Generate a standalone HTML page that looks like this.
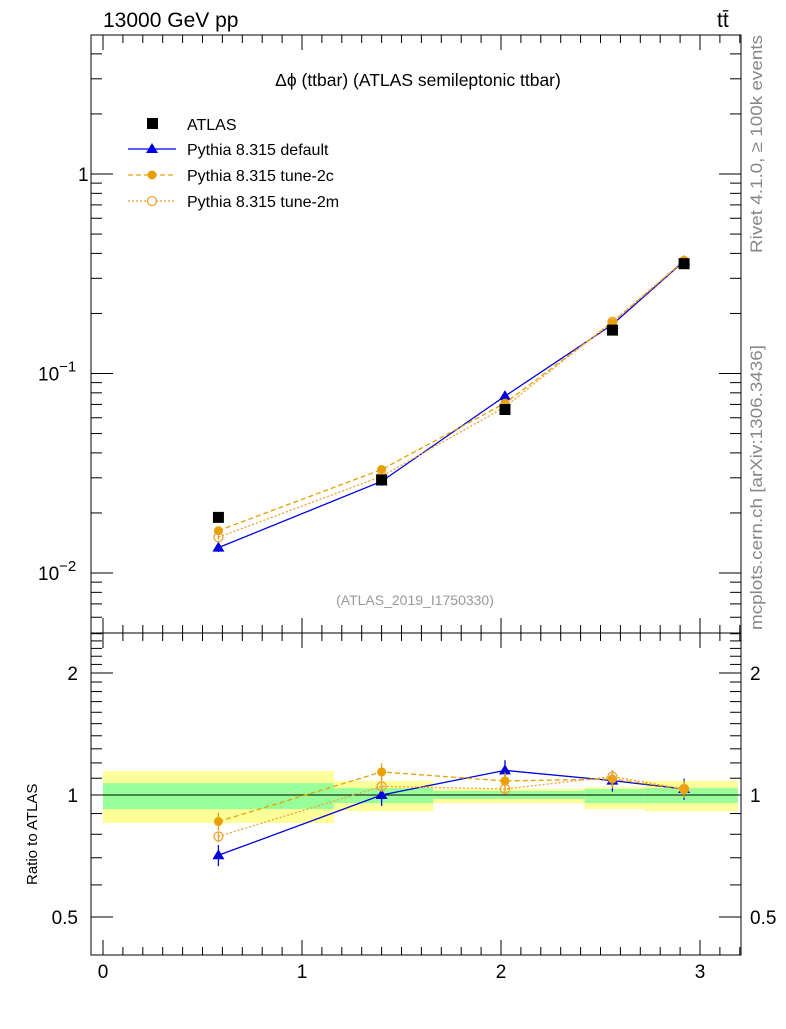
<!DOCTYPE html>
<html><head><meta charset="utf-8"><style>
body{margin:0;background:#fff}
svg text{font-family:"Liberation Sans",sans-serif}
</style></head><body>
<svg id="c" width="786" height="1024" viewBox="0 0 786 1024" xmlns="http://www.w3.org/2000/svg">
<text x="103" y="27" font-size="21">13000 GeV pp</text>
<text x="717" y="27" font-size="21">tt̄</text>
<text x="418" y="86" font-size="17.5" text-anchor="middle">Δϕ (ttbar) (ATLAS semileptonic ttbar)</text>
<text x="415" y="605" font-size="14" fill="#999" text-anchor="middle">(ATLAS_2019_I1750330)</text>
<text transform="translate(762,253) rotate(-90)" font-size="17" textLength="218" lengthAdjust="spacingAndGlyphs" fill="#888">Rivet 4.1.0, ≥ 100k events</text>
<text transform="translate(762,630) rotate(-90)" font-size="17" textLength="285" lengthAdjust="spacingAndGlyphs" fill="#888">mcplots.cern.ch [arXiv:1306.3436]</text>
<text transform="translate(37,885) rotate(-90)" font-size="15">Ratio to ATLAS</text>
<g id="legend">
<rect x="147" y="118" width="11" height="11" fill="#000"/>
<text x="187" y="130" font-size="16">ATLAS</text>
<line x1="128" y1="149" x2="176" y2="149" stroke="#0000e0" stroke-width="1.3"/>
<polygon points="152,143 158,153 146,153" fill="#0000e0"/>
<text x="187" y="155" font-size="16">Pythia 8.315 default</text>
<line x1="128" y1="175" x2="176" y2="175" stroke="#e8a000" stroke-width="1.3" stroke-dasharray="5,3"/>
<circle cx="152" cy="175" r="4.5" fill="#e8a000"/>
<text x="187" y="181" font-size="16">Pythia 8.315 tune-2c</text>
<line x1="128" y1="201" x2="176" y2="201" stroke="#f0a030" stroke-width="1.3" stroke-dasharray="2,2"/>
<circle cx="152" cy="201" r="4.5" fill="#fff" stroke="#f0a030" stroke-width="1.3"/>
<text x="187" y="207" font-size="16">Pythia 8.315 tune-2m</text>
</g>
</svg>
<script>
const xCenters=[0.58,1.40,2.02,2.56,2.92];
const binEdges=[0,1.16,1.66,2.42,2.72,3.19];
const atlas=[0.019,0.0293,0.066,0.165,0.355];
const pyDefault=[0.0134,0.0288,0.077,0.176,0.366];
const py2c=[0.0163,0.033,0.071,0.180,0.368];
const py2m=[0.0151,0.0305,0.068,0.182,0.367];
const rDefault=[0.71,1.0,1.15,1.085,1.035];
const r2c=[0.86,1.14,1.083,1.095,1.035];
const r2m=[0.79,1.05,1.035,1.11,1.035];
const bandTotLo=[0.853,0.913,0.955,0.923,0.913];
const bandTotHi=[1.146,1.083,1.035,1.046,1.083];
const bandStatLo=[0.923,0.955,0.977,0.955,0.955];
const bandStatHi=[1.07,1.04,1.023,1.035,1.04];
const xTicks=[0,1,2,3];

const S=document.getElementById('c');
const NS='http://www.w3.org/2000/svg';
const L=91,R=741,T=35,M=633,B=955;
const X=v=>103+v*199;
const Y=v=>174-Math.log10(v)*199.5;
const YR=v=>795-Math.log2(v)*122;
function mk(t,a,p){const e=document.createElementNS(NS,t);for(const k in a)e.setAttribute(k,a[k]);(p||S).appendChild(e);return e;}
const gb=mk('g',{});


S.insertBefore(gb,S.firstChild);
for(let i=0;i<5;i++){
 const r=mk('rect',{x:X(binEdges[i]),y:YR(bandTotHi[i]),width:X(binEdges[i+1])-X(binEdges[i]),height:YR(bandTotLo[i])-YR(bandTotHi[i]),fill:'#ffff99'},gb);
 
 
 const g=mk('rect',{x:X(binEdges[i]),y:YR(bandStatHi[i]),width:X(binEdges[i+1])-X(binEdges[i]),height:YR(bandStatLo[i])-YR(bandStatHi[i]),fill:'#99ff99'},gb);
 
 
}
const ax=mk('g',{stroke:'#000','stroke-width':1,fill:'none'});


mk('rect',{x:L,y:T,width:R-L,height:M-T},ax);
mk('rect',{x:L,y:M,width:R-L,height:B-M},ax);
mk('line',{x1:L,x2:R,y1:795,y2:795},ax);
for(let k=0;k<=32;k++){const v=k/10;const x=X(v);if(x>R)break;const maj=k%10==0;const len=maj?15:8;
 [T,M].forEach(y=>mk('line',{x1:x,x2:x,y1:y,y2:y+len},ax));
 [M,B].forEach(y=>mk('line',{x1:x,x2:x,y1:y,y2:y-len},ax));}
xTicks.forEach(v=>{const t=mk('text',{x:X(v),y:978,'font-size':19,'text-anchor':'middle',fill:'#000',stroke:'none'});t.textContent=v;
 
 });
for(let d=-3;d<=0;d++)for(let m=1;m<10;m++){const v=m*Math.pow(10,d);const y=Y(v);if(y<T||y>M)continue;const len=m==1?22:11;
 mk('line',{x1:L,x2:L+len,y1:y,y2:y},ax);mk('line',{x1:R,x2:R-len,y1:y,y2:y},ax);}
[[0.01,'10','−2'],[0.1,'10','−1'],[1,'1','']].forEach(a=>{const t=mk('text',{x:a[2]?38:78,y:Y(a[0])+7,'font-size':19,fill:'#000',stroke:'none'});t.textContent=a[1];
 if(a[2]){const s=mk('tspan',{dy:-9,'font-size':15},t);s.textContent=a[2];}
 
 });
for(let v=0.4;v<=2.6;v+=0.1){const y=YR(v);if(y<M||y>B)continue;const r=Math.round(v*10)/10;const maj=(r==0.5||r==1||r==2);const len=maj?22:11;
 mk('line',{x1:L,x2:L+len,y1:y,y2:y},ax);mk('line',{x1:R,x2:R-len,y1:y,y2:y},ax);}
[[0.5,'0.5'],[1,'1'],[2,'2']].forEach(a=>{[[78,'end'],[750,'start']].forEach(p=>{const t=mk('text',{x:p[0],y:YR(a[0])+7,'font-size':19,'text-anchor':p[1],fill:'#000',stroke:'none'});t.textContent=a[1];
 
 });});
function series(vals,yf,col,dash,marker,name,err){
 const g=mk('g',{});
 
 
 if(dash!==null){mk('polyline',{points:vals.map((v,i)=>X(xCenters[i])+','+yf(v)).join(' '),fill:'none',stroke:col,'stroke-width':1.3,'stroke-dasharray':dash},g);}
 vals.forEach((v,i)=>{const x=X(xCenters[i]),y=yf(v);
  if(err){mk('line',{x1:x,x2:x,y1:yf(v*(1+err)),y2:yf(v*(1-err)),stroke:col,'stroke-width':1.3},g);}
  if(marker=='sq')mk('rect',{x:x-5.5,y:y-5.5,width:11,height:11,fill:col},g);
  if(marker=='tri')mk('polygon',{points:`${x},${y-6} ${x+6},${y+4} ${x-6},${y+4}`,fill:col},g);
  if(marker=='dot')mk('circle',{cx:x,cy:y,r:4.5,fill:col},g);
  if(marker=='ring')mk('circle',{cx:x,cy:y,r:4.5,fill:'none',stroke:col,'stroke-width':1.3},g);});
}
series(pyDefault,Y,'#0000e0','','tri','main-default',0.05);
series(py2c,Y,'#e8a000','5,3','dot','main-tune-2c',0.05);
series(py2m,Y,'#f0a030','2,2','ring','main-tune-2m',0.03);
series(atlas,Y,'#000',null,'sq','main-atlas',0);
series(rDefault,YR,'#0000e0','','tri','ratio-default',0.06);
series(r2c,YR,'#e8a000','5,3','dot','ratio-tune-2c',0.05);
series(r2m,YR,'#f0a030','2,2','ring','ratio-tune-2m',0.03);
</script>
</body></html>
